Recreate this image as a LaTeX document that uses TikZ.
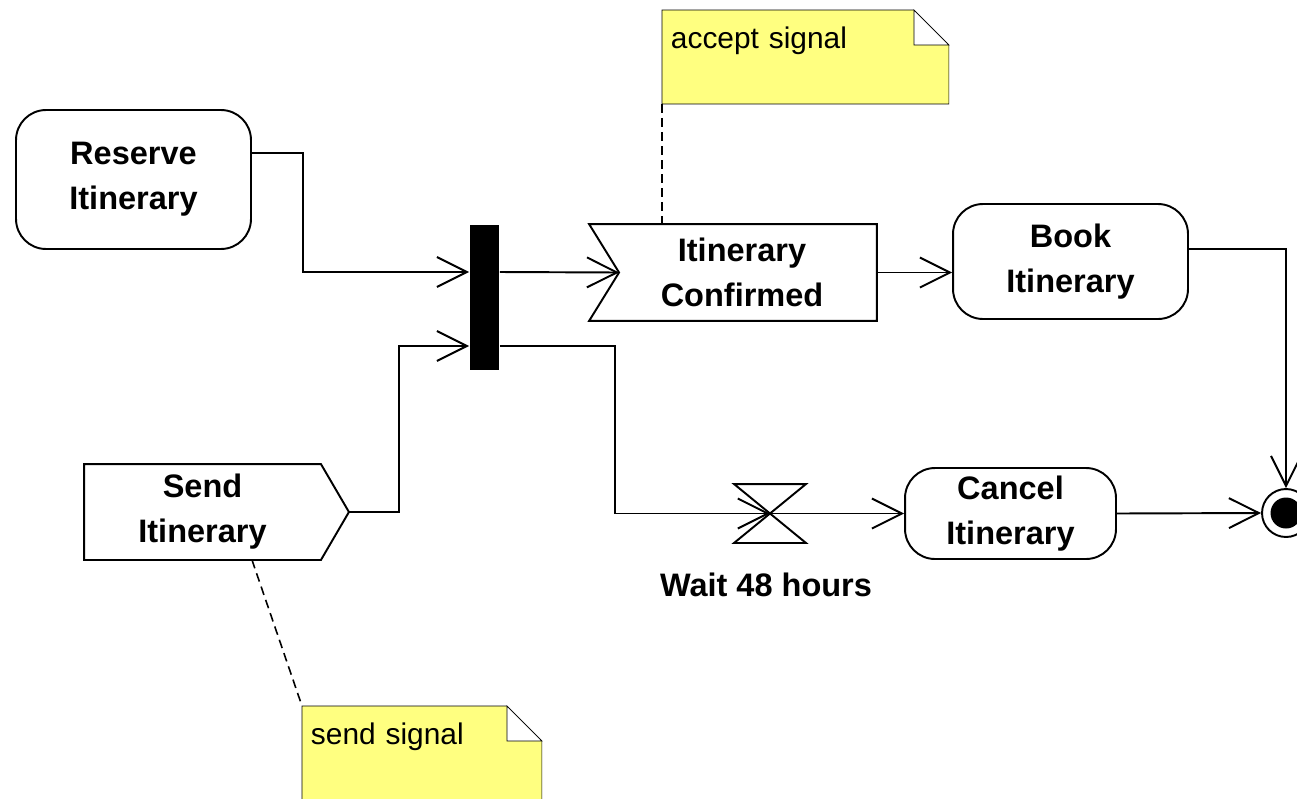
\documentclass[tikz,border=0pt]{standalone}
\usepackage{fontspec}
\setmainfont{Liberation Sans}
\usepackage{xcolor}
\usepackage{tikz}
\usetikzlibrary{arrows.meta,backgrounds}

\definecolor{notefill}{RGB}{255,255,128}
\newcommand{\actfont}{\bfseries\fontsize{18.5}{25.6}\selectfont}
\newcommand{\notefont}{\fontsize{17}{20}\selectfont}

\begin{document}
\begin{tikzpicture}[x=0.02cm, y=-0.02cm, line width=1.1pt,
    action/.style={draw, rectangle, rounded corners=0.6cm, align=center, font=\actfont},
    event/.style={rectangle, align=center, font=\actfont, inner sep=0},
    note/.style={anchor=north west, align=left, font=\notefont, inner xsep=0.16cm, inner ysep=0.2cm,
                 text height=0.56cm, text depth=0.88cm},
    flow/.style={-{Straight Barb[length=0.6cm, width=0.6cm, line width=1.1pt]}},
    link/.style={dashed, dash pattern=on 5pt off 3pt, line width=0.9pt}]
                            \useasboundingbox (0,0) rectangle (1297,798);

                            % Reserve Itinerary
                            \node[action, minimum width=4.7cm, minimum height=2.78cm] (reserve) at (133.5,179.5) {Reserve\\Itinerary};
                            % Fork bar
                            \node[fill, rectangle, minimum width=0.58cm, minimum height=2.9cm, inner sep=0] (fork) at (484.5,297.5) {};
                            % Itinerary Confirmed (accept event)
                            \node[event, minimum width=5.72cm, minimum height=1.9cm] (conf) at (733,272.5) {\hspace*{0.36cm}Itinerary\\\hspace*{0.36cm}Confirmed};
                            \coordinate (confnotch) at ([xshift=0.6cm]conf.west);
                            \draw (conf.north west) -- (conf.north east) -- (conf.south east) -- (conf.south west) -- (confnotch) -- cycle;
                            % Book Itinerary
                            \node[action, minimum width=4.7cm, minimum height=2.3cm] (book) at (1070.5,261.5) {Book\\Itinerary};
                            % Send Itinerary (send signal)
                            \node[event, minimum width=4.7cm, minimum height=1.88cm] (send) at (202.5,512) {Send\\Itinerary};
                            \coordinate (sendtip) at ([xshift=0.56cm]send.east);
                            \draw (send.north west) -- (send.north east) -- (sendtip) -- (send.south east) -- (send.south west) -- cycle;
                            % Wait (time event)
                            \node[rectangle, minimum width=1.4cm, minimum height=1.14cm, inner sep=0] (wait) at (770,513.5) {};
                            \draw (wait.north west) -- (wait.north east) -- (wait.south west) -- (wait.south east) -- cycle;
                            \node[font=\actfont] (waitlabel) at (766,585) {Wait 48 hours};
                            % Cancel Itinerary
                            \node[action, minimum width=4.22cm, minimum height=1.82cm] (cancel) at (1010.5,513.5) {Cancel\\Itinerary};
                            % Final node
                            \node[draw, circle, minimum size=0.96cm, inner sep=0] (final) at (1286,513) {};
                            \node[fill, circle, minimum size=0.62cm, inner sep=0] (finaldot) at (final.center) {};

                            % Notes
                            \node[note, text width=5.38cm] (acceptnote) at (662,10) {accept signal};
                            \node[note, text width=4.44cm] (sendnote) at (302,706) {send signal};
                            \begin{scope}[on background layer]
                              \foreach \n in {acceptnote,sendnote} {
                                \filldraw[fill=notefill] (\n.north west) -- ([xshift=-0.7cm]\n.north east) -- ([yshift=-0.7cm]\n.north east) -- (\n.south east) -- (\n.south west) -- cycle;
                                \filldraw[fill=white] ([xshift=-0.7cm]\n.north east) -- ([xshift=-0.7cm,yshift=-0.7cm]\n.north east) -- ([yshift=-0.7cm]\n.north east) -- cycle;
                              }
                            \end{scope}

                            % Arrows
                            \draw[flow] ([yshift=0.53cm]reserve.east) -- ++(51,0) |- ([yshift=0.51cm]fork.west);
                            \draw[flow] (sendtip) -- ++(50,0) |- ([yshift=-0.97cm]fork.west);
                            \draw[flow] ([yshift=0.51cm]fork.east) -- (confnotch);
                            \draw[flow] ([yshift=-0.97cm]fork.east) -- ++(115,0) |- (wait.center);
                            \draw[flow] (conf.east) -- (book.west |- conf.east);
                            \draw[flow] ([yshift=0.25cm]book.east) -| (final.north);
                            \draw[flow] (wait.center) -- (cancel.west);
                            \draw[flow] (cancel.east) -- (final.west);

                            % Note links
                            \draw[link] (acceptnote.south west) -- (acceptnote.south west |- conf.north);
                            \draw[link] ([xshift=0.99cm]send.south) -- (sendnote.north west);
                        \end{tikzpicture}
\end{document}
